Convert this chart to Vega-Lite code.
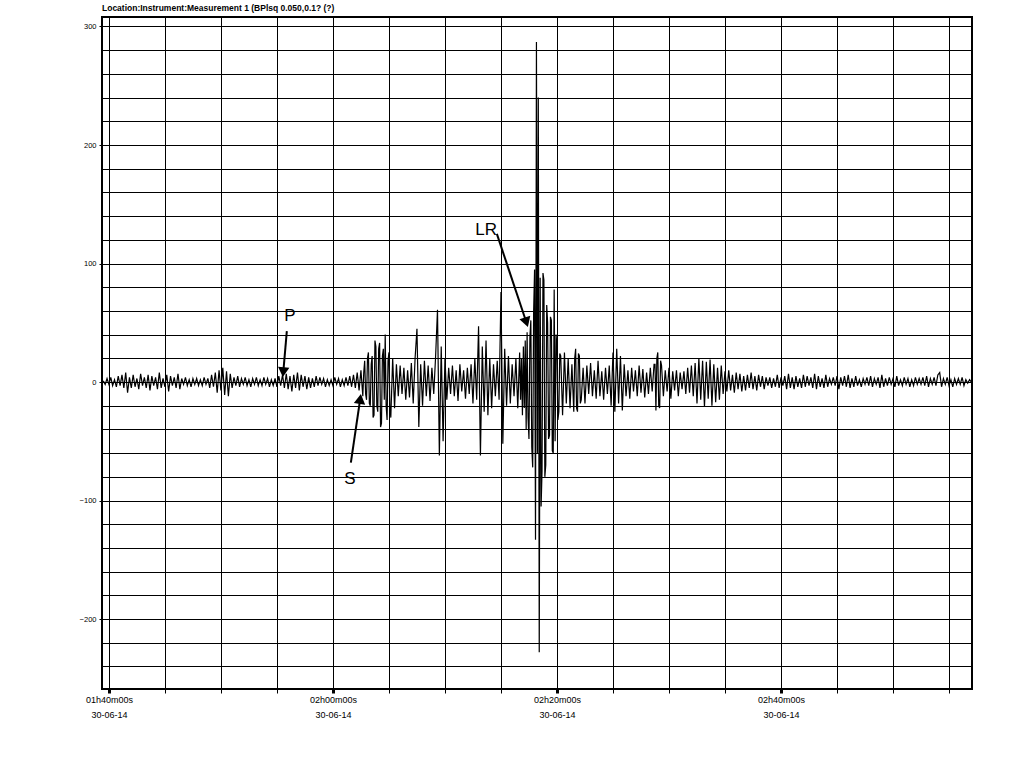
{
"$schema": "https://vega.github.io/schema/vega-lite/v6.json",
"width": 870,
"height": 672,
"autosize": {"type": "none"},
"padding": {"left": 102, "top": 17, "right": 52, "bottom": 78},
"background": "white",
"title": {"text": "Location:Instrument:Measurement 1 (BPlsq 0.050,0.1? (?)", "anchor": "start", "frame": "group", "fontSize": 8.5, "fontWeight": "bold", "font": "Liberation Sans", "color": "black", "offset": 5},
"config": {
  "view": {"stroke": "black", "strokeWidth": 2},
  "axis": {"domain": false, "grid": true, "gridColor": "black", "gridOpacity": 1, "gridWidth": 1, "labelFont": "Liberation Sans", "labelColor": "black", "tickColor": "black", "labelOverlap": false, "labelFlush": false, "labelBound": false}
},
"datasets": {
  "trace": [
{"s":-30,"v":1},{"s":-20,"v":-2},{"s":-10,"v":3},{"s":0,"v":-2},{"s":10,"v":4},{"s":20,"v":-3},{"s":30,"v":2},{"s":40,"v":-4},{"s":50,"v":5},{"s":60,"v":-3},{"s":70,"v":6},{"s":80,"v":-5},{"s":90,"v":8},{"s":100,"v":-9},{"s":110,"v":4},
{"s":120,"v":-5},{"s":130,"v":6},{"s":140,"v":-4},{"s":150,"v":3},{"s":160,"v":-6},{"s":170,"v":7},{"s":180,"v":-3},{"s":190,"v":4},{"s":200,"v":-5},{"s":210,"v":6},{"s":220,"v":-7},{"s":230,"v":5},{"s":240,"v":-3},{"s":250,"v":4},{"s":260,"v":-6},{"s":270,"v":8},{"s":280,"v":-5},{"s":290,"v":3},{"s":300,"v":-4},{"s":310,"v":6},{"s":320,"v":-8},{"s":330,"v":5},{"s":340,"v":-3},{"s":350,"v":4},{"s":360,"v":-5},{"s":370,"v":7},{"s":380,"v":-6},{"s":390,"v":3},{"s":400,"v":-2},{"s":410,"v":4},{"s":420,"v":-3},{"s":430,"v":2},{"s":440,"v":-4},{"s":450,"v":3},{"s":460,"v":-2},{"s":470,"v":3},{"s":480,"v":-3},
{"s":490,"v":2},{"s":500,"v":-3},{"s":510,"v":4},{"s":520,"v":-2},{"s":530,"v":3},{"s":540,"v":-5},{"s":550,"v":6},{"s":560,"v":-4},{"s":570,"v":8},{"s":580,"v":-9},{"s":590,"v":10},{"s":600,"v":-7},{"s":610,"v":12},{"s":620,"v":-11},{"s":630,"v":9},{"s":640,"v":-12},{"s":650,"v":7},{"s":660,"v":-5},
{"s":670,"v":4},{"s":680,"v":-3},{"s":690,"v":5},{"s":700,"v":-4},{"s":710,"v":3},{"s":720,"v":-2},{"s":730,"v":4},{"s":740,"v":-3},{"s":750,"v":2},{"s":760,"v":-4},{"s":770,"v":3},{"s":780,"v":-2},{"s":790,"v":4},{"s":800,"v":-3},{"s":810,"v":2},{"s":820,"v":-3},{"s":830,"v":4},{"s":840,"v":-2},{"s":850,"v":3},{"s":860,"v":-4},{"s":870,"v":2},{"s":880,"v":-3},
{"s":890,"v":3},{"s":900,"v":-4},{"s":910,"v":5},{"s":920,"v":-3},{"s":930,"v":6},{"s":940,"v":-5},{"s":950,"v":7},{"s":960,"v":-6},{"s":970,"v":5},{"s":980,"v":-8},{"s":990,"v":6},{"s":1000,"v":-5},{"s":1010,"v":8},{"s":1020,"v":-7},{"s":1030,"v":6},{"s":1040,"v":-4},{"s":1050,"v":5},{"s":1060,"v":-6},{"s":1070,"v":4},{"s":1080,"v":-5},{"s":1090,"v":3},{"s":1100,"v":-4},{"s":1110,"v":5},{"s":1120,"v":-3},{"s":1130,"v":4},{"s":1140,"v":-2},{"s":1150,"v":3},{"s":1160,"v":-4},{"s":1170,"v":2},{"s":1180,"v":-3},
{"s":1190,"v":2},{"s":1200,"v":-3},{"s":1210,"v":4},{"s":1220,"v":-2},{"s":1230,"v":3},{"s":1240,"v":-4},{"s":1250,"v":2},{"s":1260,"v":-3},{"s":1270,"v":4},{"s":1280,"v":-3},{"s":1290,"v":5},{"s":1300,"v":-4},{"s":1310,"v":6},{"s":1320,"v":-5},{"s":1330,"v":8},{"s":1340,"v":-7},{"s":1350,"v":10},
{"s":1360,"v":-12},{"s":1365,"v":8},{"s":1370,"v":18},{"s":1375,"v":-10},{"s":1380,"v":-15},{"s":1385,"v":20},{"s":1390,"v":25},{"s":1395,"v":-18},{"s":1400,"v":-20},{"s":1405,"v":15},{"s":1410,"v":22},{"s":1415,"v":-30},{"s":1420,"v":-28},{"s":1425,"v":35},{"s":1430,"v":30},{"s":1435,"v":-20},{"s":1440,"v":-25},{"s":1445,"v":28},{"s":1450,"v":33},{"s":1455,"v":-38},{"s":1460,"v":-35},{"s":1465,"v":22},{"s":1470,"v":28},{"s":1475,"v":-15},{"s":1480,"v":40},{"s":1485,"v":-20},{"s":1490,"v":-32},{"s":1495,"v":18},{"s":1500,"v":25},{"s":1505,"v":-20},
{"s":1510,"v":-30},{"s":1520,"v":20},{"s":1530,"v":-22},{"s":1540,"v":15},{"s":1550,"v":-12},{"s":1560,"v":14},{"s":1570,"v":-10},{"s":1580,"v":12},{"s":1590,"v":-15},{"s":1600,"v":10},{"s":1610,"v":-13},{"s":1620,"v":16},{"s":1630,"v":-18},{"s":1640,"v":20},{"s":1650,"v":45},{"s":1660,"v":-38},{"s":1670,"v":15},{"s":1680,"v":-20},{"s":1690,"v":18},{"s":1700,"v":-12},{"s":1710,"v":14},{"s":1720,"v":-16},{"s":1730,"v":12},{"s":1740,"v":-10},{"s":1750,"v":22},
{"s":1760,"v":61},{"s":1770,"v":-62},{"s":1780,"v":30},{"s":1790,"v":-50},{"s":1800,"v":20},
{"s":1810,"v":-15},{"s":1820,"v":12},{"s":1830,"v":-10},{"s":1840,"v":14},{"s":1850,"v":-12},{"s":1860,"v":10},{"s":1870,"v":-16},{"s":1880,"v":15},{"s":1890,"v":-8},{"s":1900,"v":10},{"s":1910,"v":-14},{"s":1920,"v":12},{"s":1930,"v":-10},{"s":1940,"v":15},{"s":1950,"v":-18},{"s":1960,"v":20},{"s":1970,"v":-15},
{"s":1980,"v":47},{"s":1990,"v":-62},{"s":2000,"v":30},{"s":2010,"v":-25},{"s":2020,"v":35},{"s":2030,"v":-28},{"s":2040,"v":20},{"s":2050,"v":-22},{"s":2060,"v":15},{"s":2070,"v":-12},{"s":2080,"v":18},{"s":2090,"v":-15},{"s":2100,"v":76},{"s":2110,"v":-52},{"s":2120,"v":28},{"s":2130,"v":-20},{"s":2140,"v":22},{"s":2150,"v":-18},{"s":2160,"v":15},{"s":2170,"v":-12},{"s":2180,"v":20},{"s":2190,"v":-22},
{"s":2200,"v":25},{"s":2205,"v":-15},{"s":2210,"v":20},{"s":2215,"v":-28},{"s":2220,"v":30},{"s":2225,"v":-22},{"s":2230,"v":35},{"s":2235,"v":-40},{"s":2240,"v":42},{"s":2245,"v":-30},{"s":2250,"v":-48},{"s":2255,"v":38},{"s":2260,"v":52},{"s":2265,"v":-55},{"s":2270,"v":-72},{"s":2275,"v":60},{"s":2280,"v":95},{"s":2285,"v":-133},{"s":2290,"v":287},{"s":2295,"v":-60},{"s":2300,"v":240},{"s":2305,"v":-228},{"s":2310,"v":88},{"s":2315,"v":-105},{"s":2320,"v":-75},{"s":2325,"v":92},{"s":2330,"v":86},{"s":2335,"v":-80},{"s":2340,"v":-70},{"s":2345,"v":65},{"s":2350,"v":50},{"s":2355,"v":-48},{"s":2360,"v":-45},{"s":2365,"v":55},{"s":2370,"v":52},{"s":2375,"v":-58},{"s":2380,"v":-60},{"s":2385,"v":78},{"s":2390,"v":-50},{"s":2395,"v":40},{"s":2400,"v":30},{"s":2405,"v":-32},{"s":2410,"v":-25},{"s":2415,"v":24},
{"s":2420,"v":22},{"s":2430,"v":-28},{"s":2440,"v":25},{"s":2450,"v":-18},{"s":2460,"v":20},{"s":2470,"v":-22},{"s":2480,"v":15},{"s":2490,"v":-25},{"s":2495,"v":20},{"s":2500,"v":28},{"s":2505,"v":-22},{"s":2510,"v":-25},{"s":2515,"v":24},{"s":2520,"v":22},{"s":2525,"v":-18},
{"s":2530,"v":-15},{"s":2540,"v":12},{"s":2550,"v":-18},{"s":2560,"v":14},{"s":2570,"v":-10},{"s":2580,"v":16},{"s":2590,"v":-12},{"s":2600,"v":10},{"s":2610,"v":-14},{"s":2620,"v":18},{"s":2630,"v":-12},{"s":2640,"v":9},{"s":2650,"v":-15},{"s":2660,"v":12},{"s":2670,"v":-10},{"s":2680,"v":14},
{"s":2690,"v":-20},{"s":2700,"v":25},{"s":2710,"v":-25},{"s":2720,"v":28},{"s":2730,"v":-18},{"s":2740,"v":22},{"s":2750,"v":-24},{"s":2760,"v":15},
{"s":2770,"v":-12},{"s":2780,"v":10},{"s":2790,"v":-14},{"s":2800,"v":12},{"s":2810,"v":-8},{"s":2820,"v":10},{"s":2830,"v":-12},{"s":2840,"v":14},{"s":2850,"v":-9},{"s":2860,"v":11},{"s":2870,"v":-13},{"s":2880,"v":8},{"s":2890,"v":-10},{"s":2900,"v":12},{"s":2910,"v":-8},{"s":2920,"v":15},
{"s":2925,"v":15},{"s":2930,"v":-24},{"s":2935,"v":20},{"s":2940,"v":25},{"s":2945,"v":-20},{"s":2950,"v":-22},{"s":2955,"v":18},
{"s":2960,"v":14},{"s":2970,"v":-12},{"s":2980,"v":10},{"s":2990,"v":-8},{"s":3000,"v":12},{"s":3010,"v":-14},{"s":3020,"v":9},{"s":3030,"v":-7},{"s":3040,"v":10},{"s":3050,"v":-12},{"s":3060,"v":8},{"s":3070,"v":-6},{"s":3080,"v":9},{"s":3090,"v":-10},{"s":3100,"v":12},{"s":3110,"v":-9},{"s":3120,"v":14},{"s":3130,"v":-12},
{"s":3140,"v":16},{"s":3150,"v":-18},{"s":3160,"v":20},{"s":3170,"v":-15},{"s":3180,"v":18},{"s":3190,"v":-21},{"s":3200,"v":17},{"s":3210,"v":-14},{"s":3220,"v":19},{"s":3230,"v":-20},{"s":3240,"v":15},{"s":3250,"v":-17},{"s":3260,"v":12},{"s":3270,"v":-15},{"s":3280,"v":14},{"s":3290,"v":-10},
{"s":3300,"v":9},{"s":3310,"v":-8},{"s":3320,"v":10},{"s":3330,"v":-7},{"s":3340,"v":6},{"s":3350,"v":-9},{"s":3360,"v":8},{"s":3370,"v":-6},{"s":3380,"v":7},{"s":3390,"v":-8},{"s":3400,"v":5},{"s":3410,"v":-7},{"s":3420,"v":6},{"s":3430,"v":-5},{"s":3440,"v":8},{"s":3450,"v":-6},{"s":3460,"v":5},{"s":3470,"v":-7},{"s":3480,"v":6},{"s":3490,"v":-4},{"s":3500,"v":5},{"s":3510,"v":-6},{"s":3520,"v":4},
{"s":3530,"v":-3},{"s":3540,"v":4},{"s":3550,"v":-5},{"s":3560,"v":3},{"s":3570,"v":-4},{"s":3580,"v":6},{"s":3590,"v":-5},{"s":3600,"v":4},{"s":3610,"v":-3},{"s":3620,"v":5},{"s":3630,"v":-6},{"s":3640,"v":7},{"s":3650,"v":-5},{"s":3660,"v":4},{"s":3670,"v":-6},{"s":3680,"v":5},{"s":3690,"v":-4},{"s":3700,"v":3},{"s":3710,"v":-5},{"s":3720,"v":6},{"s":3730,"v":-4},{"s":3740,"v":5},{"s":3750,"v":-3},{"s":3760,"v":4},{"s":3770,"v":-5},{"s":3780,"v":7},{"s":3790,"v":-6},{"s":3800,"v":5},{"s":3810,"v":-4},{"s":3820,"v":3},{"s":3830,"v":-5},{"s":3840,"v":6},{"s":3850,"v":-4},{"s":3860,"v":3},{"s":3870,"v":-2},{"s":3880,"v":4},{"s":3890,"v":-3},{"s":3900,"v":5},{"s":3910,"v":-6},{"s":3920,"v":4},{"s":3930,"v":-3},{"s":3940,"v":5},{"s":3950,"v":-4},{"s":3960,"v":6},{"s":3970,"v":-5},{"s":3980,"v":3},{"s":3990,"v":-4},{"s":4000,"v":5},{"s":4010,"v":-3},{"s":4020,"v":2},{"s":4030,"v":-4},{"s":4040,"v":3},{"s":4050,"v":-2},{"s":4060,"v":4},{"s":4070,"v":-3},{"s":4080,"v":5},{"s":4090,"v":-4},{"s":4100,"v":3},{"s":4110,"v":-2},{"s":4120,"v":4},{"s":4130,"v":-5},{"s":4140,"v":6},{"s":4150,"v":-4},{"s":4160,"v":3},{"s":4170,"v":-3},{"s":4180,"v":4},{"s":4190,"v":-2},{"s":4200,"v":3},{"s":4210,"v":-4},{"s":4220,"v":5},{"s":4230,"v":-3},
{"s":4240,"v":2},{"s":4250,"v":-3},{"s":4260,"v":4},{"s":4270,"v":-2},{"s":4280,"v":3},{"s":4290,"v":-4},{"s":4300,"v":2},{"s":4310,"v":-3},{"s":4320,"v":4},{"s":4330,"v":-2},{"s":4340,"v":3},{"s":4350,"v":-2},{"s":4360,"v":4},{"s":4370,"v":-3},{"s":4380,"v":5},{"s":4390,"v":-4},{"s":4400,"v":3},{"s":4410,"v":-2},{"s":4420,"v":4},{"s":4430,"v":-3},{"s":4440,"v":6},{"s":4450,"v":8},{"s":4460,"v":-4},{"s":4470,"v":3},{"s":4480,"v":-2},{"s":4490,"v":4},{"s":4500,"v":-3},{"s":4510,"v":2},{"s":4520,"v":-4},{"s":4530,"v":3},{"s":4540,"v":-2},{"s":4550,"v":3},{"s":4560,"v":-2},{"s":4570,"v":4},{"s":4580,"v":-3},{"s":4590,"v":2},{"s":4600,"v":-1},{"s":4610,"v":2},{"s":4620,"v":0}
  ],
  "notes": [
    {"label": "P", "ts": 970, "tv": 56, "s": 953, "v": 43, "s2": 934, "v2": 8.4},
    {"label": "S", "ts": 1291, "tv": -82, "s": 1296, "v": -68, "s2": 1346, "v2": -14.3},
    {"label": "LR", "ts": 2020, "tv": 128, "s": 2078, "v": 125, "s2": 2236, "v2": 50.4}
  ]
},
"layer": [
  {
    "data": {"name": "trace"},
    "mark": {"type": "line", "color": "black", "strokeWidth": 1.2, "clip": true},
    "encoding": {
      "x": {"field": "s", "type": "quantitative", "title": null,
        "scale": {"domain": [-37, 4623], "nice": false, "zero": false},
        "axis": {
          "title": null,
          "values": [0,300,600,900,1200,1500,1800,2100,2400,2700,3000,3300,3600,3900,4200,4500],
          "tickCount": 40,
          "labelExpr": "datum.value % 1200 === 0 ? [utcFormat(6000000 + datum.value * 1000, '%Hh%Mm%Ss'), '30-06-14'] : ''",
          "labelFontSize": 9, "labelLineHeight": 15, "labelPadding": 2, "labelBaseline": "top",
          "tickSize": 4,
          "tickWidth": {"condition": {"test": "datum.value % 1200 === 0", "value": 3}, "value": 1}
        }
      },
      "y": {"field": "v", "type": "quantitative", "title": null,
        "scale": {"domain": [-259, 308], "nice": false, "zero": false},
        "axis": {
          "title": null,
          "values": [-240,-220,-200,-180,-160,-140,-120,-100,-80,-60,-40,-20,0,20,40,60,80,100,120,140,160,180,200,220,240,260,280,300],
          "tickCount": 40,
          "labelExpr": "datum.value % 100 === 0 ? datum.label : ''",
          "labelFontSize": 7.5, "labelPadding": 3,
          "tickSize": 3,
          "tickOpacity": {"condition": {"test": "datum.value % 100 === 0", "value": 1}, "value": 0}
        }
      }
    }
  },
  {
    "data": {"name": "notes"},
    "mark": {"type": "rule", "color": "black", "strokeWidth": 2},
    "encoding": {
      "x": {"field": "s", "type": "quantitative"},
      "y": {"field": "v", "type": "quantitative"},
      "x2": {"field": "s2"},
      "y2": {"field": "v2"}
    }
  },
  {
    "data": {"name": "notes"},
    "mark": {"type": "point", "shape": "triangle-down", "filled": true, "color": "black", "opacity": 1, "size": 130},
    "encoding": {
      "x": {"field": "s2", "type": "quantitative"},
      "y": {"field": "v2", "type": "quantitative"},
      "angle": {"condition": [{"test": "datum.label === 'P'", "value": 5}, {"test": "datum.label === 'S'", "value": 188}], "value": 342}
    }
  },
  {
    "data": {"name": "notes"},
    "mark": {"type": "text", "font": "Liberation Sans", "fontSize": 17, "color": "black", "align": "center", "baseline": "middle"},
    "encoding": {
      "x": {"field": "ts", "type": "quantitative"},
      "y": {"field": "tv", "type": "quantitative"},
      "text": {"field": "label"}
    }
  }
]
}
